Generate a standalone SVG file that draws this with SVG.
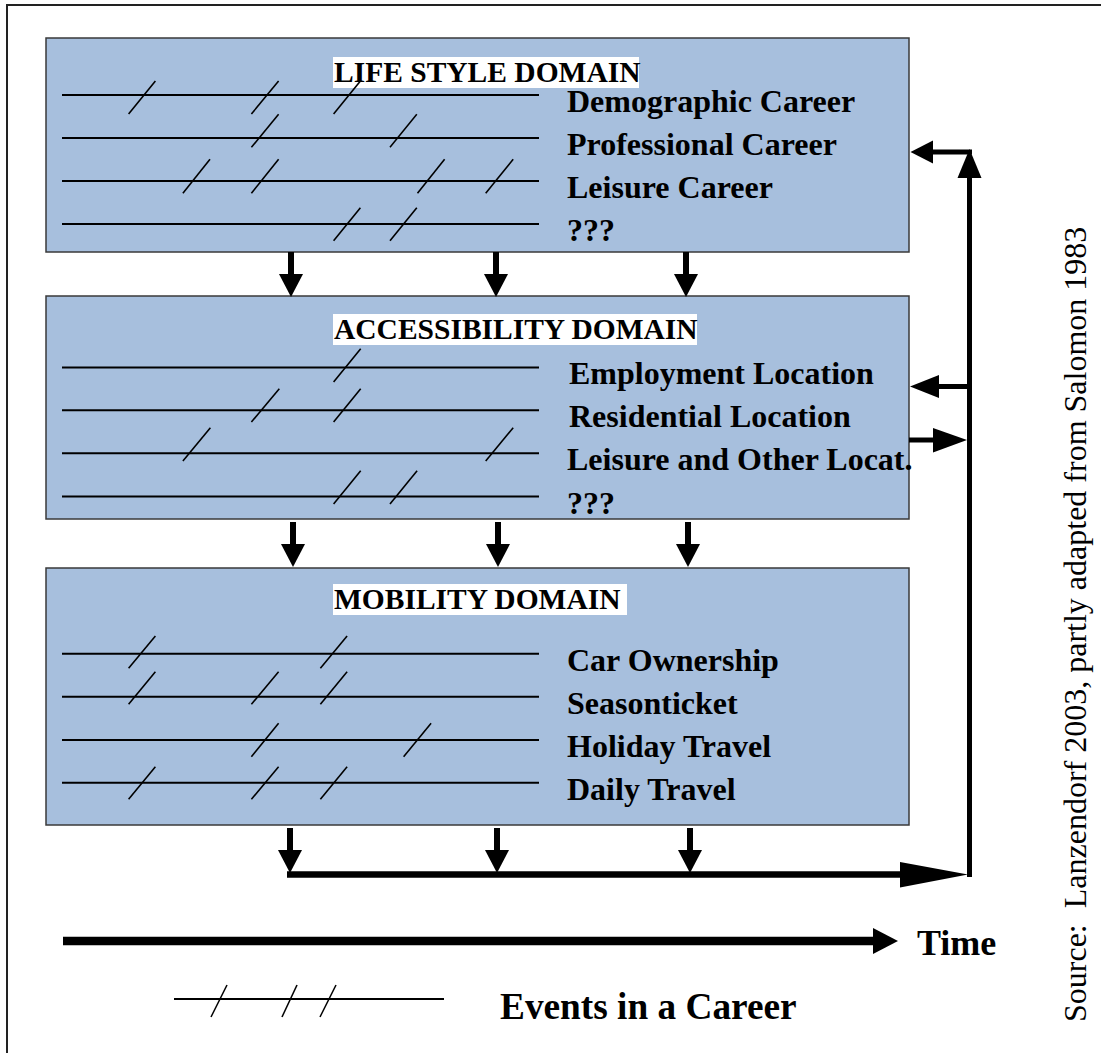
<svg xmlns="http://www.w3.org/2000/svg" width="1101" height="1053" viewBox="0 0 1101 1053">
  <style>
    .frame { fill: #fff; stroke: #222; stroke-width: 2; }
    .box { fill: #a7bfdd; stroke: #3a3a3a; stroke-width: 1.5; }
    .lbl { fill: #fff; }
    .title { font-family: "Liberation Serif", "Times New Roman", serif; font-weight: bold; font-size: 29.5px; fill: #000; }
    .item { font-family: "Liberation Serif", "Times New Roman", serif; font-weight: bold; font-size: 32px; fill: #000; }
    .big { font-family: "Liberation Serif", "Times New Roman", serif; font-weight: bold; font-size: 36px; fill: #000; }
    .legend-text { font-size: 37.3px; }
    .src { font-family: "Times New Roman", "Liberation Serif", Tinos, "Noto Serif", serif; font-weight: 400; font-style: normal; font-size: 32px; fill: #000; }
    .track { stroke: #000; stroke-width: 2; }
    .ev { stroke: #000; stroke-width: 1.6; }
    .thick { stroke: #000; fill: none; }
    .head { fill: #000; }
  </style>
  <defs>
    <!-- downward block arrow: stem 6 wide, head 24 wide x 23 long; origin at tip -->
    <g id="down">
      <rect x="-3" y="-45" width="6" height="24" fill="#000"/>
      <polygon points="-12,-23 12,-23 0,0" fill="#000"/>
    </g>
  </defs>

  <!-- page frame -->
  <rect class="frame" x="7" y="5" width="1110" height="1070"/>

  <!-- Life style domain -->
  <g id="lifestyle">
    <rect class="box" x="46" y="38" width="863" height="214"/>
    <rect class="lbl" x="333" y="57" width="306" height="31"/>
    <text class="title" x="334" y="82">LIFE STYLE DOMAIN</text>
    <line class="track" x1="62" y1="95" x2="539" y2="95"/>
    <line class="track" x1="62" y1="138" x2="539" y2="138"/>
    <line class="track" x1="62" y1="181" x2="539" y2="181"/>
    <line class="track" x1="62" y1="224" x2="539" y2="224"/>
    <line class="ev" x1="128.6" y1="114" x2="155.4" y2="81"/>
    <line class="ev" x1="251.4" y1="114" x2="278.6" y2="81"/>
    <line class="ev" x1="333.6" y1="114" x2="360.4" y2="81"/>
    <line class="ev" x1="251.4" y1="147.3" x2="278.6" y2="114.3"/>
    <line class="ev" x1="390" y1="147.3" x2="416.8" y2="114.3"/>
    <line class="ev" x1="182.9" y1="193.3" x2="210" y2="159.3"/>
    <line class="ev" x1="251.4" y1="193.3" x2="278.6" y2="159.3"/>
    <line class="ev" x1="417.5" y1="193.3" x2="444.6" y2="159.3"/>
    <line class="ev" x1="485.7" y1="193.3" x2="513.2" y2="159.3"/>
    <line class="ev" x1="333.6" y1="240.7" x2="360.4" y2="207.7"/>
    <line class="ev" x1="390" y1="240.7" x2="416.8" y2="207.7"/>
    <text class="item" x="567" y="112">Demographic Career</text>
    <text class="item" x="567" y="155">Professional Career</text>
    <text class="item" x="567" y="198">Leisure Career</text>
    <text class="item" x="567" y="241">???</text>
  </g>

  <!-- Accessibility domain -->
  <g id="accessibility">
    <rect class="box" x="46" y="296" width="863" height="223"/>
    <rect class="lbl" x="333" y="314" width="364" height="31"/>
    <text class="title" x="334" y="339">ACCESSIBILITY DOMAIN</text>
    <line class="track" x1="62" y1="367.5" x2="539" y2="367.5"/>
    <line class="track" x1="62" y1="410.3" x2="539" y2="410.3"/>
    <line class="track" x1="62" y1="453.3" x2="539" y2="453.3"/>
    <line class="track" x1="62" y1="496.5" x2="539" y2="496.5"/>
    <line class="ev" x1="333.6" y1="382" x2="360.7" y2="348.7"/>
    <line class="ev" x1="251.4" y1="422" x2="279.3" y2="388.7"/>
    <line class="ev" x1="333.6" y1="422" x2="360.7" y2="388.7"/>
    <line class="ev" x1="182.9" y1="461" x2="210.4" y2="427.7"/>
    <line class="ev" x1="485.7" y1="461" x2="513.2" y2="427.7"/>
    <line class="ev" x1="333.6" y1="504" x2="360.7" y2="470.7"/>
    <line class="ev" x1="390" y1="504" x2="417.1" y2="470.7"/>
    <text class="item" x="569" y="384">Employment Location</text>
    <text class="item" x="569" y="427">Residential Location</text>
    <text class="item" x="567" y="470">Leisure and Other Locat.</text>
    <text class="item" x="567" y="514">???</text>
  </g>

  <!-- Mobility domain -->
  <g id="mobility">
    <rect class="box" x="46" y="568" width="863" height="257"/>
    <rect class="lbl" x="333" y="584" width="294" height="31"/>
    <text class="title" x="334" y="609">MOBILITY DOMAIN</text>
    <line class="track" x1="62" y1="653.7" x2="539" y2="653.7"/>
    <line class="track" x1="62" y1="696.7" x2="539" y2="696.7"/>
    <line class="track" x1="62" y1="740" x2="539" y2="740"/>
    <line class="track" x1="62" y1="782.7" x2="539" y2="782.7"/>
    <line class="ev" x1="128.6" y1="668.3" x2="155.4" y2="636"/>
    <line class="ev" x1="320.4" y1="668.3" x2="347.1" y2="636"/>
    <line class="ev" x1="128.6" y1="704.3" x2="155.4" y2="671.7"/>
    <line class="ev" x1="251.4" y1="704.3" x2="278.6" y2="671.7"/>
    <line class="ev" x1="320.4" y1="704.3" x2="347.1" y2="671.7"/>
    <line class="ev" x1="251.4" y1="756.7" x2="278.6" y2="723.3"/>
    <line class="ev" x1="403.6" y1="756.7" x2="431.1" y2="723.3"/>
    <line class="ev" x1="128.6" y1="799.3" x2="155.4" y2="766.7"/>
    <line class="ev" x1="251.4" y1="799.3" x2="278.6" y2="766.7"/>
    <line class="ev" x1="320.4" y1="799.3" x2="347.1" y2="766.7"/>
    <text class="item" x="567" y="671">Car Ownership</text>
    <text class="item" x="567" y="714">Seasonticket</text>
    <text class="item" x="567" y="757">Holiday Travel</text>
    <text class="item" x="567" y="800">Daily Travel</text>
  </g>

  <!-- connectors -->
  <g id="connectors">
    <!-- life style to accessibility -->
    <use href="#down" x="291" y="297"/>
    <use href="#down" x="496" y="297"/>
    <use href="#down" x="686" y="297"/>
    <!-- accessibility to mobility -->
    <use href="#down" x="293" y="567"/>
    <use href="#down" x="498" y="567"/>
    <use href="#down" x="688" y="567"/>
    <!-- mobility to feedback line -->
    <use href="#down" x="290" y="873"/>
    <use href="#down" x="497" y="873"/>
    <use href="#down" x="690" y="873"/>

    <!-- feedback line along the bottom -->
    <line class="thick" x1="287" y1="874.5" x2="902" y2="874.5" stroke-width="6.5"/>
    <polygon class="head" points="900,862 968,874.5 900,887.5"/>
    <!-- rising line on the right -->
    <line class="thick" x1="969.5" y1="877" x2="969.5" y2="176" stroke-width="5"/>
    <polygon class="head" points="957.5,178 981.5,178 969.5,149"/>
    <!-- back into life style domain -->
    <line class="thick" x1="972" y1="152" x2="931" y2="152" stroke-width="5"/>
    <polygon class="head" points="933,140.5 933,163.5 910.5,152"/>
    <!-- back into accessibility domain -->
    <line class="thick" x1="968" y1="386.5" x2="937" y2="386.5" stroke-width="5"/>
    <polygon class="head" points="939,375 939,398 910,386.5"/>
    <!-- out of accessibility domain -->
    <line class="thick" x1="909" y1="440" x2="935" y2="440" stroke-width="5"/>
    <polygon class="head" points="933,428 933,452.5 967,440"/>
  </g>

  <!-- time axis -->
  <g id="time">
    <line class="thick" x1="63" y1="941" x2="875" y2="941" stroke-width="8.5"/>
    <polygon class="head" points="873,928 873,954 898,941"/>
    <text class="big" x="917" y="955">Time</text>
  </g>

  <!-- legend -->
  <g id="legend">
    <line class="track" x1="174" y1="999" x2="444" y2="999" stroke-width="1.5"/>
    <line class="ev" x1="211" y1="1017" x2="227" y2="985"/>
    <line class="ev" x1="282" y1="1017" x2="297" y2="985"/>
    <line class="ev" x1="320" y1="1017" x2="336" y2="985"/>
    <text class="big legend-text" x="500" y="1019">Events in a Career</text>
  </g>

  <!-- source note -->
  <g id="source">
    <text class="src" transform="translate(1086,1022) rotate(-90)" x="0" y="0">Source:&#160; Lanzendorf 2003, partly adapted from Salomon 1983</text>
  </g>
</svg>
